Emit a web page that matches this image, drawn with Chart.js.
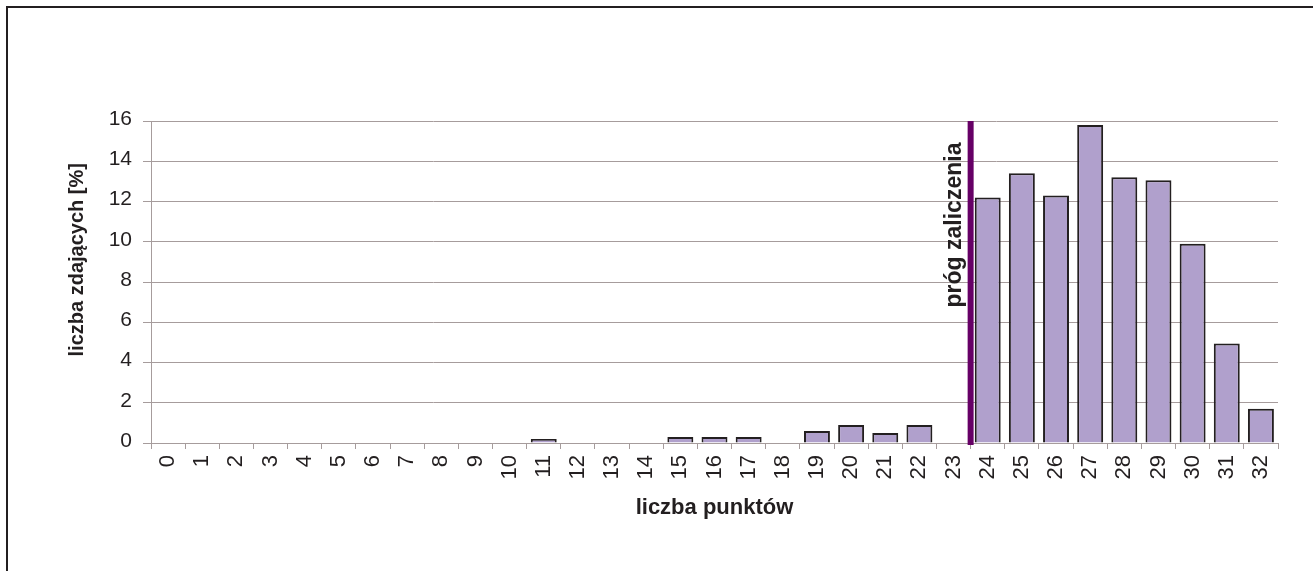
<!DOCTYPE html>
<html>
<head>
<meta charset="utf-8">
<script src="https://cdn.jsdelivr.net/npm/chart.js@4"></script>
<style>
  body { margin: 0; background: #fff; }
  #wrap { position: relative; width: 1313px; height: 571px; }
  #frame { position: absolute; left: 6px; top: 6px; right: 0; bottom: 0; border-top: 2px solid #231f20; border-left: 2px solid #231f20; }
  #chart { position: absolute; left: 0; top: 0; }
</style>
</head>
<body>
<div id="wrap">
  <div id="frame"></div>
  <canvas id="chart" width="1313" height="571"></canvas>
</div>
<script>
// dane
const categories = ['0', '1', '2', '3', '4', '5', '6', '7', '8', '9', '10', '11', '12', '13', '14', '15', '16',
  '17', '18', '19', '20', '21', '22', '23', '24', '25', '26', '27', '28', '29', '30', '31', '32'];
const percentValues = [0, 0, 0, 0, 0, 0, 0, 0, 0, 0, 0, 0.2, 0, 0, 0, 0.3, 0.3,
  0.3, 0, 0.6, 0.9, 0.5, 0.9, 0, 12.2, 13.4, 12.3, 15.8, 13.2, 13.05, 9.9, 4.95, 1.7];
const yTicks = [0, 2, 4, 6, 8, 10, 12, 14, 16];
const threshold = 23.5; // między 23 a 24 punktami
const thresholdLabel = 'próg zaliczenia';
const xTitle = 'liczba punktów';
const yTitle = 'liczba zdających [%]';

const FONT = "'Liberation Sans', Arial, sans-serif";
const GRID = '#a69c9c';
const TEXT = '#231f20';

const thresholdLine = {
  id: 'thresholdLine',
  afterDatasetsDraw(chart) {
    const { ctx, scales: { x, y } } = chart;
    const px = x.getPixelForValue(threshold);
    const top = y.getPixelForValue(yTicks[yTicks.length - 1]);
    const bottom = y.getPixelForValue(0) + 2;
    ctx.save();
    ctx.strokeStyle = '#660066';
    ctx.lineWidth = 6;
    ctx.beginPath();
    ctx.moveTo(px, top);
    ctx.lineTo(px, bottom);
    ctx.stroke();
    ctx.translate(px - 10, top + 104);
    ctx.rotate(-Math.PI / 2);
    ctx.font = 'bold 23px ' + FONT;
    ctx.fillStyle = TEXT;
    ctx.textAlign = 'center';
    ctx.textBaseline = 'alphabetic';
    ctx.fillText(thresholdLabel, 0, 0);
    ctx.restore();
  }
};

const ctx = document.getElementById('chart').getContext('2d');
const myChart = new Chart(ctx, {
  type: 'bar',
  data: {
    labels: categories,
    datasets: [{
      data: percentValues,
      backgroundColor: '#b0a0cc',
      borderColor: TEXT,
      borderWidth: 2,
      categoryPercentage: 0.76,
      barPercentage: 1
    }]
  },
  plugins: [thresholdLine],
  options: {
    responsive: false,
    animation: false,
    layout: { padding: { left: 0, top: 121, right: 35, bottom: 0 } },
    plugins: { legend: { display: false }, tooltip: { enabled: false } },
    scales: {
      x: {
        afterFit: (scale) => { scale.height = 128; },
        grid: { drawOnChartArea: false, color: GRID, tickLength: 6, offset: true },
        border: { color: GRID, width: 1 },
        ticks: {
          autoSkip: false, minRotation: 90, maxRotation: 90, padding: 6,
          color: TEXT, font: { family: FONT, size: 22 }
        },
        title: {
          display: true, text: xTitle, color: TEXT,
          font: { family: FONT, size: 22, weight: 'bold' },
          padding: { top: 0, bottom: 50 }
        }
      },
      y: {
        min: 0,
        max: 16,
        afterFit: (scale) => { scale.width = 151; },
        afterBuildTicks: (scale) => { scale.ticks = yTicks.map(v => ({ value: v })); },
        grid: { color: GRID, tickLength: 8 },
        border: { color: GRID, width: 1 },
        ticks: {
          padding: 11, labelOffset: -2,
          color: TEXT, font: { family: FONT, size: 21 }
        },
        title: {
          display: true, text: '\u00a0'.repeat(8) + yTitle, color: TEXT,
          font: { family: FONT, size: 20, weight: 'bold' },
          padding: { top: 65, bottom: 0 }
        }
      }
    }
  }
});
</script>
</body>
</html>
